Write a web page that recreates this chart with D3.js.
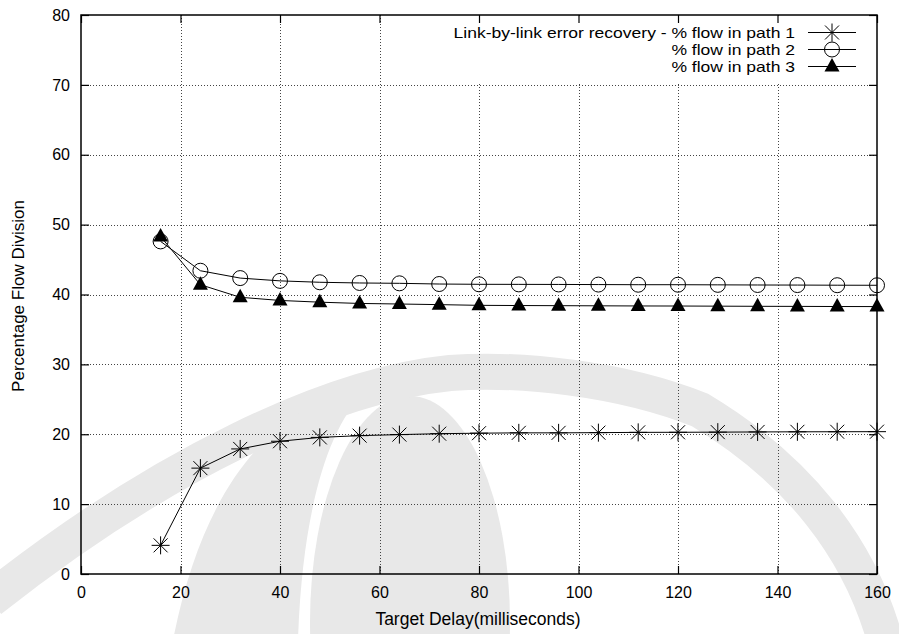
<!DOCTYPE html>
<html>
<head>
<meta charset="utf-8">
<script src="https://cdn.jsdelivr.net/npm/d3@7"></script>
<style>
  body { margin: 0; background: #fff; }
  svg { display: block; font-family: "Liberation Sans", Arial, Helvetica, sans-serif; }
</style>
</head>
<body>
<svg id="chart" width="899" height="634"></svg>
<script>
// ---- data ----
const delays = [16, 24, 32, 40, 48, 56, 64, 72, 80, 88, 96, 104, 112, 120, 128, 136, 144, 152, 160];
const path1 = [4.1, 15.15, 17.9, 19.0, 19.55, 19.8, 19.95, 20.08, 20.15, 20.2, 20.2, 20.23, 20.27, 20.28, 20.3, 20.33, 20.35, 20.36, 20.37];
const path2 = [47.6, 43.4, 42.35, 41.95, 41.75, 41.65, 41.6, 41.5, 41.46, 41.45, 41.44, 41.42, 41.4, 41.4, 41.38, 41.36, 41.35, 41.33, 41.32];
const path3 = [48.3, 41.4, 39.6, 39.15, 38.9, 38.72, 38.64, 38.55, 38.45, 38.42, 38.4, 38.38, 38.36, 38.35, 38.33, 38.31, 38.3, 38.28, 38.27];
const xTicks = [0, 20, 40, 60, 80, 100, 120, 140, 160];
const yTicks = [0, 10, 20, 30, 40, 50, 60, 70, 80];
const seriesNames = ["Link-by-link error recovery - % flow in path 1", "% flow in path 2", "% flow in path 3"];
const xTitle = "Target Delay(milliseconds)";
const yTitle = "Percentage Flow Division";

const svg = d3.select("#chart");
const L = 81, R = 877, T = 15, B = 574;
const x = d3.scaleLinear().domain([0, 160]).range([L, R]);
const y = d3.scaleLinear().domain([0, 80]).range([B, T]);

// ---- faint watermark (decoration) ----
const wmc = "#e8e8e8";
const wm = svg.append("g").attr("fill", "none").attr("stroke", wmc);
wm.append("ellipse").attr("cx", 410).attr("cy", 622).attr("rx", 100).attr("ry", 226)
  .attr("fill", wmc).attr("stroke", "none");
wm.append("path").attr("stroke-width", 36)
  .attr("d", "M 885 640 C 860 550, 800 470, 700 410 C 620 378, 520 368, 450 373 C 330 385, 160 465, -10 600");
wm.append("path").attr("fill", wmc).attr("stroke", "none")
  .attr("d", "M 173 640 C 195 530, 235 455, 300 412 L 365 392 C 325 430, 302 520, 298 640 Z");

// ---- grid ----
const grid = svg.append("g").attr("stroke", "#444").attr("stroke-width", 1).attr("stroke-dasharray", "1,2");
grid.selectAll(".gx").data(xTicks.filter(d => d > 0 && d < 160)).join("line")
  .attr("x1", d => Math.round(x(d)) + 0.5).attr("x2", d => Math.round(x(d)) + 0.5)
  .attr("y1", T).attr("y2", B);
grid.selectAll(".gy").data(yTicks.filter(d => d > 0 && d < 80)).join("line")
  .attr("y1", d => Math.round(y(d)) + 0.5).attr("y2", d => Math.round(y(d)) + 0.5)
  .attr("x1", L).attr("x2", R);

// key background box
svg.append("rect").attr("x", 446).attr("y", T + 1).attr("width", R - 446 - 1).attr("height", 68).attr("fill", "#fff");

// ---- axes ----
const fs = 16;
const axB = svg.append("g").attr("transform", `translate(0,${B})`)
  .call(d3.axisBottom(x).tickValues(xTicks).tickSize(-8).tickPadding(13).tickFormat(d3.format("d")));
const axL = svg.append("g").attr("transform", `translate(${L},0)`)
  .call(d3.axisLeft(y).tickValues(yTicks).tickSize(-8).tickPadding(11).tickFormat(d3.format("d")));
const axT = svg.append("g").attr("transform", `translate(0,${T})`)
  .call(d3.axisTop(x).tickValues(xTicks).tickSize(-8).tickFormat(""));
const axR = svg.append("g").attr("transform", `translate(${R},0)`)
  .call(d3.axisRight(y).tickValues(yTicks).tickSize(-8).tickFormat(""));
[axB, axL, axT, axR].forEach(a => {
  a.select(".domain").remove();
  a.selectAll("line").attr("stroke", "#000").attr("stroke-width", 1.2);
  a.selectAll("text").attr("font-size", fs).attr("fill", "#000").attr("font-family", "Liberation Sans, Arial, sans-serif");
});

svg.append("rect").attr("x", L).attr("y", T).attr("width", R - L).attr("height", B - T)
  .attr("fill", "none").attr("stroke", "#000").attr("stroke-width", 1.5);

// axis titles
svg.append("text").attr("x", 478).attr("y", 625).attr("text-anchor", "middle")
  .attr("font-size", 17.5).text(xTitle);
svg.append("text").attr("transform", "translate(24,296) rotate(-90)").attr("text-anchor", "middle")
  .attr("font-size", 17).text(yTitle);

// ---- markers ----
function star(g, cx, cy) {
  const a = 9, b = 7;
  const p = `M${cx - a},${cy}H${cx + a}M${cx},${cy - a}V${cy + a}M${cx - b},${cy - b}L${cx + b},${cy + b}M${cx - b},${cy + b}L${cx + b},${cy - b}`;
  g.append("path").attr("d", p).attr("stroke", "#000").attr("stroke-width", 1).attr("fill", "none");
}
function circ(g, cx, cy) {
  g.append("circle").attr("cx", cx).attr("cy", cy).attr("r", 7.5).attr("fill", "none").attr("stroke", "#000").attr("stroke-width", 1);
}
function tri(g, cx, cy) {
  g.append("path").attr("d", `M${cx},${cy - 8.5}L${cx + 7.5},${cy + 5}L${cx - 7.5},${cy + 5}Z`).attr("fill", "#000");
}
const markers = [star, circ, tri];
const allSeries = [path1, path2, path3];

const line = d3.line().x(d => x(d[0])).y(d => y(d[1]));
const dataG = svg.append("g");
allSeries.forEach((s, i) => {
  const pts = delays.map((d, j) => [d, s[j]]);
  dataG.append("path").datum(pts).attr("d", line).attr("fill", "none").attr("stroke", "#000").attr("stroke-width", 1);
  pts.forEach(p => markers[i](dataG, x(p[0]), y(p[1])));
});

// ---- legend ----
const legY = [32.5, 49.5, 66.5];
const legFs = 15;
const leg = svg.append("g");
seriesNames.forEach((n, i) => {
  const t = leg.append("text").attr("x", 795).attr("y", legY[i]).attr("dy", "0.35em").attr("text-anchor", "end")
    .attr("font-size", legFs).text(n);
  // glyphs in the reference are wider than Arial at this height: stretch horizontally
  const w = t.node().getComputedTextLength();
  t.attr("textLength", w * 17.5 / legFs).attr("lengthAdjust", "spacingAndGlyphs");
  leg.append("line").attr("x1", 808).attr("x2", 856).attr("y1", legY[i]).attr("y2", legY[i]).attr("stroke", "#000");
  markers[i](leg, 832, legY[i]);
});
</script>
</body>
</html>
